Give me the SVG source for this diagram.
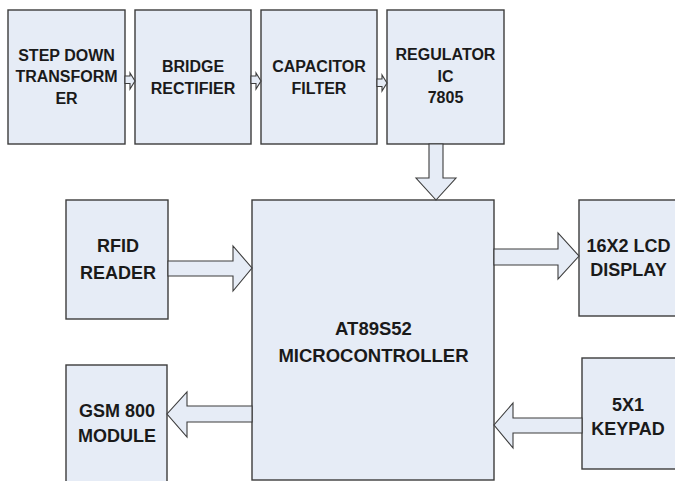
<svg xmlns="http://www.w3.org/2000/svg" width="675" height="481" viewBox="0 0 675 481">
<style>
.box{fill:#E6ECF6;stroke:#3C3C3C;stroke-width:1.4}
.arr{fill:#E6ECF6;stroke:#3C3C3C;stroke-width:1.1;stroke-linejoin:miter}
text{font-family:"Liberation Sans",Arial,sans-serif;font-weight:bold;fill:#1A1A1A;text-anchor:middle}
.t{font-size:16px}
.b{font-size:18px}
</style>
<rect width="675" height="481" fill="#FFFFFF"/>
<g id="transformer"><rect class="box" x="8" y="10" width="117" height="134"/>
<text class="t" x="66.5" y="60.5">STEP DOWN</text><text class="t" x="66.5" y="82">TRANSFORM</text><text class="t" x="66.5" y="104">ER</text></g>
<g id="rectifier"><rect class="box" x="135" y="10" width="116" height="134"/>
<text class="t" x="193" y="71.5">BRIDGE</text><text class="t" x="193" y="94">RECTIFIER</text></g>
<g id="filter"><rect class="box" x="261" y="10" width="116" height="134"/>
<text class="t" x="319" y="71.5">CAPACITOR</text><text class="t" x="319" y="94">FILTER</text></g>
<g id="regulator"><rect class="box" x="387" y="10" width="117" height="134"/>
<text class="t" x="445.5" y="60">REGULATOR</text><text class="t" x="445.5" y="81.5">IC</text><text class="t" x="445.5" y="103">7805</text></g>
<g id="mcu"><rect class="box" x="252" y="200" width="242" height="280"/>
<text class="b" x="373.5" y="335" style="font-size:18.5px">AT89S52</text><text class="b" x="373.5" y="361.5" style="font-size:18.5px">MICROCONTROLLER</text></g>
<g id="rfid"><rect class="box" x="66" y="200" width="102" height="119"/>
<text class="b" x="118" y="252">RFID</text><text class="b" x="118" y="279">READER</text></g>
<g id="lcd"><rect class="box" x="579" y="200" width="110" height="116"/>
<text class="b" x="628.5" y="252">16X2 LCD</text><text class="b" x="628.5" y="276">DISPLAY</text></g>
<g id="gsm"><rect class="box" x="66" y="365" width="101" height="130"/>
<text class="b" x="117" y="417">GSM 800</text><text class="b" x="117" y="441.5">MODULE</text></g>
<g id="keypad"><rect class="box" x="582" y="358" width="110" height="111"/>
<text class="b" x="628" y="410.5">5X1</text><text class="b" x="628" y="435">KEYPAD</text></g>
<g id="connectors">
<polygon class="arr" points="125,76 130,76 130,73 135,81 130,89 130,83.5 125,83.5"/>
<polygon class="arr" points="251,76 256,76 256,73 261,81 256,89 256,83.5 251,83.5"/>
<polygon class="arr" points="377,79 382,79 382,75 387,83 382,91 382,86.5 377,86.5"/>
<polygon class="arr" points="429,144 443,144 443,178 456,178 436,200 416,178 429,178"/>
<polygon class="arr" points="168,261 233,261 233,246 252,268 233,291 233,276 168,276"/>
<polygon class="arr" points="494,249 558,249 558,233 579,256 558,279 558,265 494,265"/>
<polygon class="arr" points="252,406 187,406 187,392 167,414 187,437 187,422 252,422"/>
<polygon class="arr" points="582,418 513,418 513,403 494,425 513,448 513,433 582,433"/>
</g>
</svg>
